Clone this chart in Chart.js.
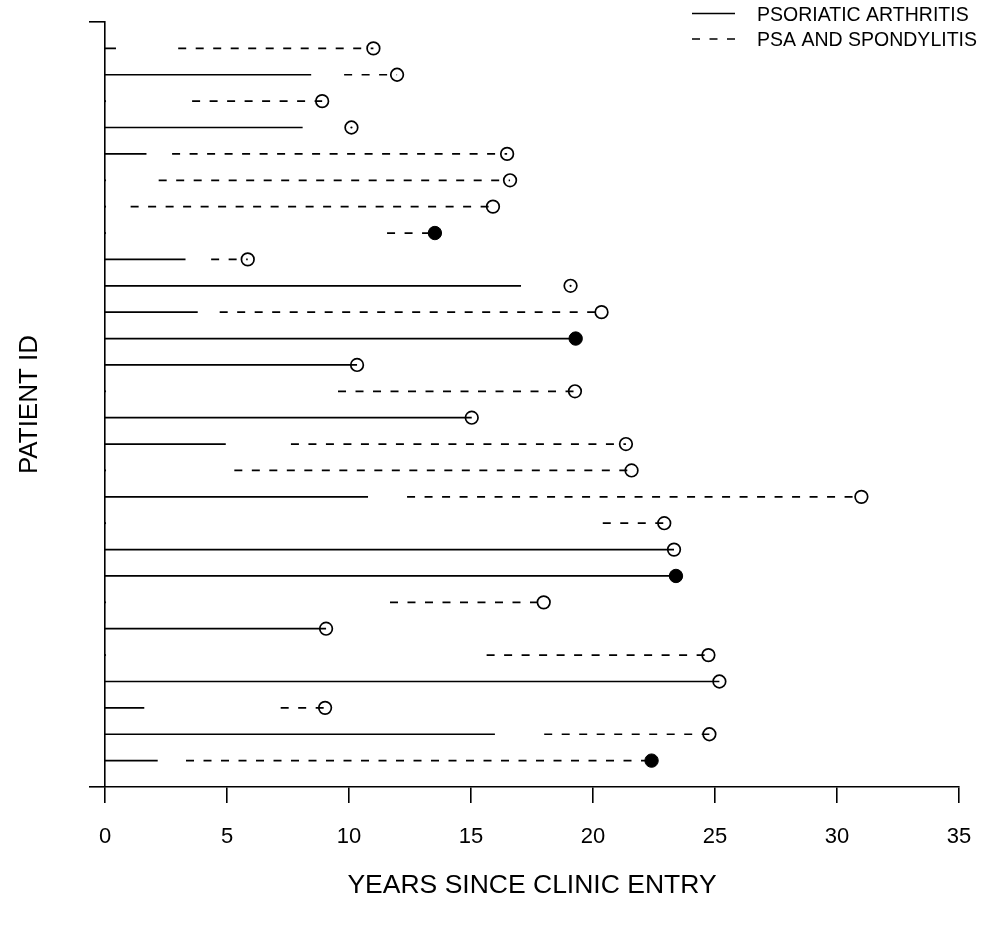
<!DOCTYPE html>
<html>
<head>
<meta charset="utf-8">
<script src="https://cdn.jsdelivr.net/npm/chart.js@4.4.1/dist/chart.umd.min.js"></script>
<style>
html,body{margin:0;padding:0;background:#fff;}
#wrap{width:985px;height:928px;}
</style>
</head>
<body>
<div id="wrap"><canvas id="c" width="985" height="928"></canvas></div>
<script>
// ---- data (rows listed top to bottom) ----
const patients = [1,2,3,4,5,6,7,8,9,10,11,12,13,14,15,16,17,18,19,20,21,22,23,24,25,26,27,28];
// psoriatic arthritis period: 0 -> psaEnd (0 = no PsA-only period)
const psaEnd = [0.45, 8.45, 0, 8.1, 1.7, 0, 0, 0, 3.3, 17.05, 3.8, 19.29, 10.33, 0, 15.03, 4.95, 0, 10.78, 0, 23.32, 23.4, 0, 9.06, 0, 25.18, 1.61, 15.98, 2.16];
// PsA and spondylitis period
const spondStart = [3.0, 9.8, 3.57, 10.1, 2.75, 2.2, 1.05, 11.56, 4.35, 19.08, 4.7, null, null, 9.55, null, 7.62, 5.3, 12.38, 20.4, null, null, 11.68, null, 15.64, null, 7.2, 18.0, 3.32];
const spondEnd   = [11.0, 11.97, 8.9, 10.1, 16.48, 16.6, 15.9, 13.52, 5.85, 19.08, 20.35, null, null, 19.26, null, 21.35, 21.58, 31.0, 22.92, null, null, 17.98, null, 24.73, null, 9.02, 24.77, 22.4];
// end of follow-up and status (1 = filled marker, 0 = open marker)
const followUp = [11.0, 11.97, 8.9, 10.1, 16.48, 16.6, 15.9, 13.52, 5.85, 19.08, 20.35, 19.29, 10.33, 19.26, 15.03, 21.35, 21.58, 31.0, 22.92, 23.32, 23.4, 17.98, 9.06, 24.73, 25.18, 9.02, 24.77, 22.4];
const status   = [0,0,0,0,0,0,0,1,0,0,0,1,0,0,0,0,0,0,0,0,1,0,0,0,0,0,0,1];
const xTicks = [0,5,10,15,20,25,30,35];
const seriesNames = ['PSORIATIC ARTHRITIS', 'PSA AND SPONDYLITIS'];

// ---- build datasets ----
const n = patients.length;
const rowY = i => n - i;
const solidPts = [], dashPts = [], openPts = [], filledPts = [], dotPts = [];
for (let i = 0; i < n; i++) {
  const y = rowY(i);
  if (psaEnd[i] > 0) { solidPts.push({x:0,y}, {x:psaEnd[i],y}, {x:0,y:null}); }
  else { dotPts.push({x:0,y}); }
  if (spondStart[i] !== null) {
    if (spondEnd[i] > spondStart[i]) dashPts.push({x:spondStart[i],y}, {x:spondEnd[i],y}, {x:0,y:null});
    else dotPts.push({x:spondStart[i],y});
  }
  (status[i] ? filledPts : openPts).push({x:followUp[i], y});
}

const INK = '#000';
Chart.defaults.font.family = "'Liberation Sans', Arial, Helvetica, sans-serif";
Chart.defaults.color = INK;

const legendPlugin = {
  id: 'cornerLegend',
  afterDraw(chart) {
    const ctx = chart.ctx;
    ctx.save();
    ctx.font = "19.5px 'Liberation Sans', Arial, sans-serif";
    ctx.textBaseline = 'alphabetic';
    ctx.fillStyle = INK;
    ctx.strokeStyle = INK;
    ctx.lineWidth = 1.6;
    [chart.data.datasets[0], chart.data.datasets[1]].forEach((ds, k) => {
      const ly = 13.5 + k * 25.5;
      ctx.setLineDash(ds.borderDash || []);
      ctx.beginPath(); ctx.moveTo(692, ly); ctx.lineTo(735, ly); ctx.stroke();
      ctx.setLineDash([]);
      ctx.fillText(ds.label, 757, ly + 7);
    });
    ctx.restore();
  }
};

new Chart(document.getElementById('c'), {
  type: 'scatter',
  data: {
    datasets: [
      {label: seriesNames[0], data: solidPts, showLine: true, spanGaps: false, borderColor: INK, borderWidth: 1.7, pointRadius: 0, borderCapStyle: 'butt'},
      {label: seriesNames[1], data: dashPts, showLine: true, spanGaps: false, borderColor: INK, borderWidth: 1.7, borderDash: [8, 9.5], pointRadius: 0, borderCapStyle: 'butt'},
      {label: 'censored', data: openPts, showLine: false, pointStyle: 'circle', pointRadius: 6.3, borderWidth: 1.7, borderColor: INK, backgroundColor: 'rgba(0,0,0,0)'},
      {label: 'event', data: filledPts, showLine: false, pointStyle: 'circle', pointRadius: 6.7, borderWidth: 1, borderColor: INK, backgroundColor: INK},
      {label: 'zero', data: dotPts, showLine: false, pointStyle: 'circle', pointRadius: 1.1, borderWidth: 0, backgroundColor: INK}
    ]
  },
  options: {
    responsive: false,
    animation: false,
    events: [],
    layout: {padding: {top: 22, right: 26, left: 0, bottom: 0}},
    plugins: {legend: {display: false}, tooltip: {enabled: false}},
    scales: {
      x: {
        type: 'linear', min: 0, max: 35, position: 'bottom',
        afterFit(s) { s.height = 141; s.paddingLeft = 0; s.paddingRight = 0; },
        afterBuildTicks(s) { s.ticks = xTicks.map(v => ({value: v})); },
        grid: {drawOnChartArea: false, drawTicks: true, tickLength: 16, color: INK, lineWidth: 1.6},
        border: {display: true, color: INK, width: 1.6},
        ticks: {color: INK, font: {size: 22}, padding: 21, maxRotation: 0, autoSkip: false},
        title: {display: true, text: 'YEARS SINCE CLINIC ENTRY', color: INK, font: {size: 26.5}, padding: {top: 0, bottom: 26}}
      },
      y: {
        type: 'linear', min: 0, max: n + 1, position: 'left',
        afterFit(s) { s.width = 105; s.paddingTop = 0; s.paddingBottom = 0; },
        afterBuildTicks(s) { s.ticks = [{value: 0}, {value: n + 1}]; },
        grid: {drawOnChartArea: false, drawTicks: true, tickLength: 16, color: INK, lineWidth: 1.6},
        border: {display: true, color: INK, width: 1.6},
        ticks: {display: false},
        title: {display: true, text: 'PATIENT ID', color: INK, font: {size: 26}, padding: {top: 14, bottom: 0}}
      }
    }
  },
  plugins: [legendPlugin]
});
</script>
</body>
</html>
